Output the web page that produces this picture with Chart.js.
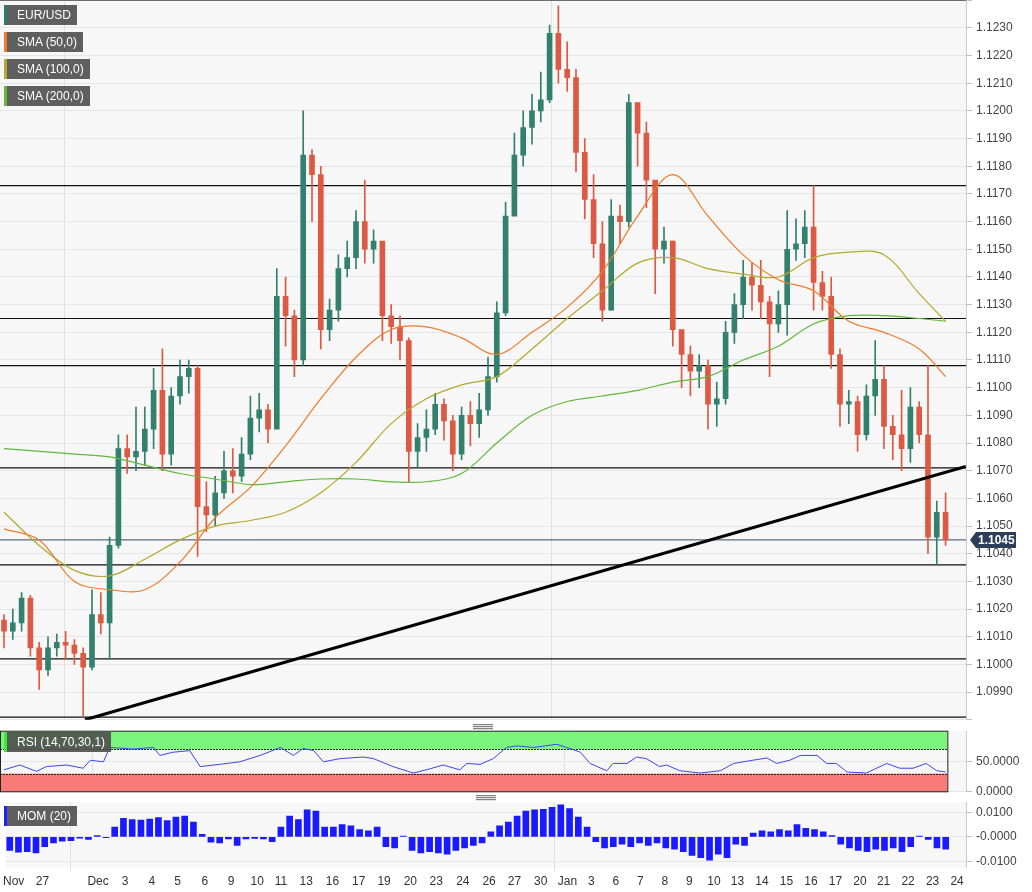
<!DOCTYPE html>
<html>
<head>
<meta charset="utf-8">
<script src="https://cdn.jsdelivr.net/npm/chart.js@4.4.1/dist/chart.umd.min.js"></script>
<style>
  body { margin: 0; background: #fff; font-family: "Liberation Sans", Arial, sans-serif; }
  #wrap { position: relative; width: 1032px; height: 892px; overflow: hidden; }
  canvas { position: absolute; left: 0; }
  .tag { position: absolute; left: 4px; height: 20px; line-height: 20px; color: #fff; font-size: 12px;
         background: rgba(78,78,78,0.9); padding: 0 6px 0 10px; border-left: 3px solid #555; box-sizing: border-box; }
</style>
</head>
<body>
<div id="wrap">
  <canvas id="main" width="1032" height="742" style="top:-11px"></canvas>
  <canvas id="rsi" width="1032" height="83" style="top:720px"></canvas>
  <canvas id="mom" width="1032" height="101" style="top:791px"></canvas>
  <div class="tag" style="top:5px;border-left-color:#2e7d6b">EUR/USD</div>
  <div class="tag" style="top:32px;border-left-color:#f07a2a">SMA (50,0)</div>
  <div class="tag" style="top:59px;border-left-color:#b5a82a">SMA (100,0)</div>
  <div class="tag" style="top:86px;border-left-color:#62b83a">SMA (200,0)</div>
  <div class="tag" style="top:732px;border-left-color:#3ee83e">RSI (14,70,30,1)</div>
  <div class="tag" style="top:806px;border-left-color:#2222ff">MOM (20)</div>
</div>
<script>
// 8-hour candles, Nov 26 -> Jan 23
const firstOpen = 1.1016;
const closes = [1.1012,1.1015,1.1024,1.1006,1.0998,1.1006,1.1008,1.1007,1.1004,1.0999,
  1.1018,1.1015,1.1043,1.1078,1.1075,1.1077,1.1085,1.1099,1.1076,1.1097,
  1.1104,1.1107,1.1057,1.1054,1.1062,1.1070,1.1068,1.1076,1.1089,1.1092,
  1.1085,1.1133,1.1126,1.1110,1.1184,1.1177,1.1121,1.1128,1.1143,1.1147,
  1.1160,1.1150,1.1153,1.1126,1.1122,1.1117,1.1077,1.1082,1.1085,1.1094,
  1.1088,1.1076,1.1090,1.1087,1.1092,1.1104,1.1127,1.1162,1.1184,1.1194,
  1.1200,1.1204,1.1228,1.1215,1.1212,1.1185,1.1168,1.1152,1.1128,1.1162,
  1.1160,1.1203,1.1192,1.1175,1.1150,1.1153,1.1121,1.1112,1.1106,1.1108,
  1.1094,1.1096,1.1120,1.1130,1.1140,1.1137,1.1131,1.1123,1.1130,1.1150,
  1.1152,1.1158,1.1138,1.1133,1.1112,1.1094,1.1095,1.1083,1.1097,1.1103,
  1.1086,1.1083,1.1078,1.1093,1.1083,1.1046,1.1055,1.1045];
const highs = [1.1018,1.1020,1.1026,1.1025,1.1008,1.1010,1.1011,1.1012,1.1009,1.1006,
  1.1027,1.1026,1.1046,1.1083,1.1083,1.1093,1.1093,1.1107,1.1114,1.1100,
  1.1110,1.1110,1.1108,1.1066,1.1068,1.1077,1.1078,1.1082,1.1097,1.1098,
  1.1094,1.1143,1.1140,1.1128,1.1200,1.1186,1.1180,1.1132,1.1148,1.1153,
  1.1164,1.1175,1.1157,1.1133,1.1130,1.1126,1.1118,1.1087,1.1092,1.1098,
  1.1096,1.1090,1.1093,1.1095,1.1098,1.1111,1.1131,1.1167,1.1192,1.1200,
  1.1206,1.1214,1.1231,1.1238,1.1225,1.1215,1.1190,1.1177,1.1160,1.1168,
  1.1166,1.1206,1.1200,1.1196,1.1170,1.1158,1.1153,1.1118,1.1115,1.1112,
  1.1110,1.1102,1.1124,1.1134,1.1146,1.1145,1.1146,1.1133,1.1135,1.1164,
  1.1161,1.1164,1.1173,1.1142,1.1140,1.1114,1.1099,1.1097,1.1101,1.1117,
  1.1108,1.1090,1.1099,1.1100,1.1095,1.1108,1.1059,1.1062];
const lows = [1.1006,1.1009,1.1012,1.1003,1.0991,1.0996,1.1003,1.1002,1.1000,1.0981,
  1.0998,1.1011,1.1002,1.1042,1.1069,1.1070,1.1072,1.1078,1.1070,1.1072,
  1.1094,1.1098,1.1039,1.1048,1.1050,1.1060,1.1062,1.1066,1.1074,1.1084,
  1.1080,1.1088,1.1115,1.1104,1.1108,1.1160,1.1114,1.1117,1.1124,1.1140,
  1.1143,1.1145,1.1145,1.1117,1.1116,1.1110,1.1066,1.1071,1.1077,1.1083,
  1.1081,1.1070,1.1074,1.1079,1.1082,1.1090,1.1102,1.1126,1.1170,1.1180,
  1.1188,1.1196,1.1203,1.1210,1.1207,1.1178,1.1161,1.1147,1.1124,1.1128,
  1.1152,1.1158,1.1180,1.1165,1.1134,1.1145,1.1115,1.1100,1.1097,1.1100,
  1.1085,1.1086,1.1094,1.1116,1.1125,1.1128,1.1125,1.1104,1.1120,1.1119,
  1.1146,1.1147,1.1128,1.1128,1.1107,1.1086,1.1087,1.1077,1.1081,1.1090,
  1.1078,1.1074,1.1070,1.1073,1.1080,1.1040,1.1036,1.1043];

// moving averages sampled every 4 candles
const smaIdx = [0,4,8,12,16,20,24,28,32,36,40,44,48,52,56,60,64,68,72,76,80,84,88,92,96,100,104,107];
const sma50 = [1.1049,1.1045,1.1030,1.1027,1.1027,1.1037,1.1053,1.1064,1.1079,1.1096,1.1111,1.1121,1.1122,1.1118,
  1.1112,1.1120,1.1129,1.1142,1.1162,1.1177,1.1162,1.1148,1.1139,1.1135,1.1124,1.1120,1.1114,1.1104];
const sma100 = [1.1055,1.1043,1.1034,1.1032,1.1038,1.1045,1.1050,1.1052,1.1055,1.1062,1.1073,1.1087,1.1096,1.1101,
  1.1104,1.1114,1.1125,1.1135,1.1145,1.1147,1.1143,1.1141,1.1140,1.1147,1.1149,1.1148,1.1134,1.1124];
const sma200 = [1.1078,1.1077,1.1076,1.1075,1.1072,1.1069,1.1067,1.1065,1.1066,1.1067,1.1067,1.1066,1.1066,1.1069,
  1.1080,1.1090,1.1095,1.1097,1.1099,1.1102,1.1104,1.1110,1.1115,1.1123,1.1126,1.1126,1.1125,1.1124];

const levels = [1.1240,1.1173,1.1125,1.1108,1.1071,1.1036,1.1002,1.0981];
const trendX = [9.2, 109.3];
const trendY = [1.0980, 1.10715];

const rsiIdx = [0,1.8,3.7,4.8,7.1,9.0,9.8,11.3,12.0,14.7,17.0,17.7,19.2,21.1,22.3,24.5,26.8,29.1,31.4,32.9,34.0,35.2,36.3,
  38.2,40.8,42.0,44.2,46.5,48.0,49.9,51.8,52.6,54.1,55.6,57.1,58.3,60.2,62.8,64.7,65.5,66.6,68.5,69.2,70.8,71.9,73.0,
  74.5,75.3,76.8,79.1,81.4,82.9,85.1,86.7,87.8,89.3,90.5,92.4,93.5,94.6,95.8,98.0,100.3,101.8,103.3,104.8,106.0,106.6,107];
const rsiVal = [36.3,44.2,33.7,41.6,44.2,38.9,52.1,49.5,73.2,70.5,73.2,60,65.3,67.9,41.6,45.3,49.5,60,73.2,60,71.6,67.9,49.5,
  54.7,57.4,54.7,41.6,31,36.3,44.2,36.3,46.8,45.3,54.7,73.2,75.8,73.2,78.4,69.5,65.3,46.8,34.7,46.8,46.8,57.4,54.7,
  41.6,44.2,34.7,31,34.7,46.8,52.1,55.8,46.8,52.1,60,60,46.8,46.8,32.6,31,46.8,38.9,38.9,46.8,34.7,33.7,32.6];

const mom = [-0.0055,-0.0062,-0.0060,-0.0065,-0.0040,-0.0025,-0.0018,-0.0015,-0.0005,-0.0010,
  0.0005,-0.0003,0.0040,0.0075,0.0070,0.0068,0.0072,0.0078,0.0066,0.0080,
  0.0085,0.0060,0.0010,-0.0022,-0.0025,-0.0008,-0.0035,-0.0008,-0.0006,-0.0008,
  -0.0020,0.0040,0.0085,0.0070,0.0110,0.0105,0.0040,0.0040,0.0050,0.0045,
  0.0030,0.0025,0.0040,-0.0040,-0.0045,0.0003,-0.0055,-0.0065,-0.0060,-0.0065,
  -0.0070,-0.0055,-0.0045,-0.0035,-0.0025,0.0020,0.0045,0.0060,0.0085,0.0105,
  0.0110,0.0112,0.0120,0.0130,0.0115,0.0080,0.0040,-0.0020,-0.0045,-0.0040,
  -0.0030,-0.0040,-0.0025,-0.0035,-0.0025,-0.0045,-0.0050,-0.0060,-0.0075,-0.0085,
  -0.0095,-0.0070,-0.0085,-0.0030,-0.0035,0.0015,0.0025,0.0020,0.0030,0.0025,
  0.0050,0.0035,0.0030,0.0020,0.0005,-0.0030,-0.0045,-0.0055,-0.0060,-0.0050,
  -0.0055,-0.0045,-0.0060,-0.0040,0.0003,-0.0010,-0.0045,-0.0050];

const tickLabels = ['Nov','27','Dec','3','4','5','6','9','10','11','13','16','17','19','20','23','24','26','27','30',
  'Jan','3','6','7','8','9','10','13','14','15','16','17','20','21','22','23','24'];
const tickIdx = [0.45,3.75,10.1,13.2,16.25,19.2,22.3,25.3,28.3,31.0,33.9,36.9,39.9,42.8,45.8,48.75,51.8,54.8,57.7,60.7,
  63.75,66.5,69.3,72.1,74.9,77.7,80.5,83.2,86.0,88.8,91.6,94.4,97.2,99.9,102.7,105.5,108.3];

const X_MIN = -0.4545, X_MAX = 109.32;
const GREEN = '#33806c', RED = '#dc5a44';
Chart.defaults.font.family = '"Liberation Sans", Arial, sans-serif';
Chart.defaults.font.size = 12;
Chart.defaults.color = '#444';

const opens = closes.map((c, i) => i ? closes[i - 1] : firstOpen);
const colors = closes.map((c, i) => c >= opens[i] ? GREEN : RED);

const xAxis = (showTicks, monthGrid) => ({
  type: 'linear', min: X_MIN, max: X_MAX, offset: false,
  afterBuildTicks: s => { s.ticks = tickIdx.map(v => ({ value: v })); },
  ticks: { display: showTicks, autoSkip: false, maxRotation: 0, color: '#333',
           callback: (v, i) => tickLabels[i] },
  grid: { drawTicks: showTicks, tickLength: 4,
          color: c => (monthGrid && c.tick && ['Dec','Jan'].includes(tickLabels[c.index])) ? '#e0e0e0' : 'rgba(0,0,0,0)' },
  border: { display: false }
});
const yAxis = (extra) => Object.assign({
  position: 'right',
  afterFit: s => { s.width = 66; },
  grid: { color: '#e6e6e6', tickLength: 6, tickColor: '#bbb' },
  border: { color: '#ccc' },
  ticks: { padding: 4, color: '#444' }
}, extra);

const bgPlugin = {
  id: 'bg',
  beforeDraw(chart) {
    const a = chart.chartArea, ctx = chart.ctx;
    ctx.save(); ctx.fillStyle = '#f7f7f7';
    ctx.fillRect(a.left, a.top, a.right - a.left, a.bottom - a.top);
    ctx.restore();
  }
};

const lineDs = (data, color, width, order) => ({
  type: 'line', data, borderColor: color, borderWidth: width, pointRadius: 0, tension: 0.35, order
});

const mainDatasets = [
  { type: 'bar', data: closes.map((c, i) => ({ x: i, y: [lows[i], highs[i]] })), backgroundColor: colors,
    barThickness: 1, grouped: false, order: 3 },
  { type: 'bar', data: closes.map((c, i) => {
      const lo = Math.min(opens[i], c), hi = Math.max(opens[i], c);
      return { x: i, y: [lo, Math.max(hi, lo + 0.00006)] };
    }), backgroundColor: colors, barThickness: 5, grouped: false, order: 2 },
  lineDs(smaIdx.map((x, i) => ({ x, y: sma50[i] })), '#f07a2a', 1.2, 1),
  lineDs(smaIdx.map((x, i) => ({ x, y: sma100[i] })), '#b5a82a', 1.2, 1),
  lineDs(smaIdx.map((x, i) => ({ x, y: sma200[i] })), '#62b83a', 1.2, 1),
  ...levels.map(l => ({ type: 'line', data: [{ x: X_MIN, y: l }, { x: X_MAX, y: l }], borderColor: '#111',
    borderWidth: 1.2, pointRadius: 0, order: 4 })),
  { type: 'line', data: [{ x: X_MIN, y: closes[closes.length - 1] }, { x: X_MAX, y: closes[closes.length - 1] }],
    borderColor: '#34495e', borderWidth: 1, pointRadius: 0, order: 4 },
  { type: 'line', data: trendX.map((x, i) => ({ x, y: trendY[i] })), borderColor: '#000', borderWidth: 3,
    pointRadius: 0, order: 0 }
];

const badgePlugin = {
  id: 'badge',
  afterDraw(chart) {
    const ctx = chart.ctx, y = chart.scales.y.getPixelForValue(closes[closes.length - 1]);
    const x0 = chart.chartArea.right + 4;
    ctx.save();
    ctx.fillStyle = '#2c3e58';
    ctx.beginPath();
    ctx.moveTo(x0, y); ctx.lineTo(x0 + 6, y - 8); ctx.lineTo(x0 + 46, y - 8);
    ctx.lineTo(x0 + 46, y + 8); ctx.lineTo(x0 + 6, y + 8); ctx.closePath(); ctx.fill();
    ctx.fillStyle = '#fff'; ctx.font = 'bold 12px "Liberation Sans", Arial';
    ctx.textBaseline = 'middle';
    ctx.fillText(closes[closes.length - 1].toFixed(4), x0 + 8, y + 1);
    ctx.restore();
  }
};

new Chart(document.getElementById('main'), {
  type: 'bar',
  data: { datasets: mainDatasets },
  options: {
    responsive: false, animation: false, devicePixelRatio: 1,
    layout: { padding: { top: 0, bottom: 2 } },
    plugins: { legend: { display: false }, tooltip: { enabled: false } },
    scales: {
      x: xAxis(false, true),
      y: yAxis({ min: 1.0980, max: 1.1240,
        ticks: { stepSize: 0.001, padding: 4, color: '#444',
                 callback: v => (v < 1.0985 || v > 1.1235) ? '' : v.toFixed(4) } })
    }
  },
  plugins: [bgPlugin, badgePlugin]
});

const bandPlugin = {
  id: 'bands',
  beforeDatasetsDraw(chart) {
    const ctx = chart.ctx, ys = chart.scales.y, xs = chart.scales.x;
    const l = xs.getPixelForValue(X_MIN), r = xs.getPixelForValue(107.2);
    ctx.save();
    ctx.fillStyle = '#7cf57c';
    ctx.fillRect(l, ys.getPixelForValue(100), r - l, ys.getPixelForValue(70) - ys.getPixelForValue(100));
    ctx.fillStyle = '#f87b78';
    ctx.fillRect(l, ys.getPixelForValue(30), r - l, ys.getPixelForValue(0) - ys.getPixelForValue(30));
    ctx.strokeStyle = '#222'; ctx.lineWidth = 1; ctx.setLineDash([2, 1]);
    [70, 30].forEach(v => { const y = Math.round(ys.getPixelForValue(v)) + 0.5;
      ctx.beginPath(); ctx.moveTo(l, y); ctx.lineTo(r, y); ctx.stroke(); });
    ctx.setLineDash([]);
    ctx.strokeRect(l + 0.5, ys.getPixelForValue(100), r - l, ys.getPixelForValue(0) - ys.getPixelForValue(100));
    ctx.restore();
  }
};

const handlePlugin = {
  id: 'handle',
  afterDraw(chart) {
    const ctx = chart.ctx, a = chart.chartArea, cx = (a.left + a.right) / 2;
    ctx.save(); ctx.strokeStyle = '#666'; ctx.lineWidth = 1;
    [0, 2, 4].forEach(d => { const y = a.top - 7 + d + 0.5;
      ctx.beginPath(); ctx.moveTo(cx - 10, y); ctx.lineTo(cx + 10, y); ctx.stroke(); });
    ctx.restore();
  }
};

new Chart(document.getElementById('rsi'), {
  type: 'line',
  data: { datasets: [{ data: rsiIdx.map((x, i) => ({ x, y: rsiVal[i] })), borderColor: '#3b47f0',
    borderWidth: 1, pointRadius: 0, tension: 0 }] },
  options: {
    responsive: false, animation: false, devicePixelRatio: 1,
    layout: { padding: { top: 0, bottom: 0 } },
    plugins: { legend: { display: false }, tooltip: { enabled: false } },
    scales: {
      x: xAxis(false, true),
      y: yAxis({ min: 0, max: 100,
        afterBuildTicks: s => { s.ticks = [{ value: 0 }, { value: 50 }]; },
        ticks: { padding: 4, color: '#444', callback: v => v.toFixed(4) } })
    }
  },
  plugins: [bgPlugin, bandPlugin, handlePlugin]
});

new Chart(document.getElementById('mom'), {
  type: 'bar',
  data: { datasets: [{ data: mom.map((v, i) => ({ x: i, y: v })), backgroundColor: '#1a1aff',
    barThickness: 6, grouped: false }] },
  options: {
    responsive: false, animation: false, devicePixelRatio: 1,
    layout: { padding: { top: 0, bottom: 0 } },
    plugins: { legend: { display: false }, tooltip: { enabled: false } },
    scales: {
      x: xAxis(true, true),
      y: yAxis({ min: -0.0125, max: 0.0141,
        afterBuildTicks: s => { s.ticks = [{ value: -0.01 }, { value: 0 }, { value: 0.01 }]; },
        ticks: { padding: 4, color: '#444',
                 callback: v => v > 0 ? v.toFixed(4) : '-' + Math.abs(v).toFixed(4) } })
    }
  },
  plugins: [bgPlugin, handlePlugin]
});
</script>
</body>
</html>
